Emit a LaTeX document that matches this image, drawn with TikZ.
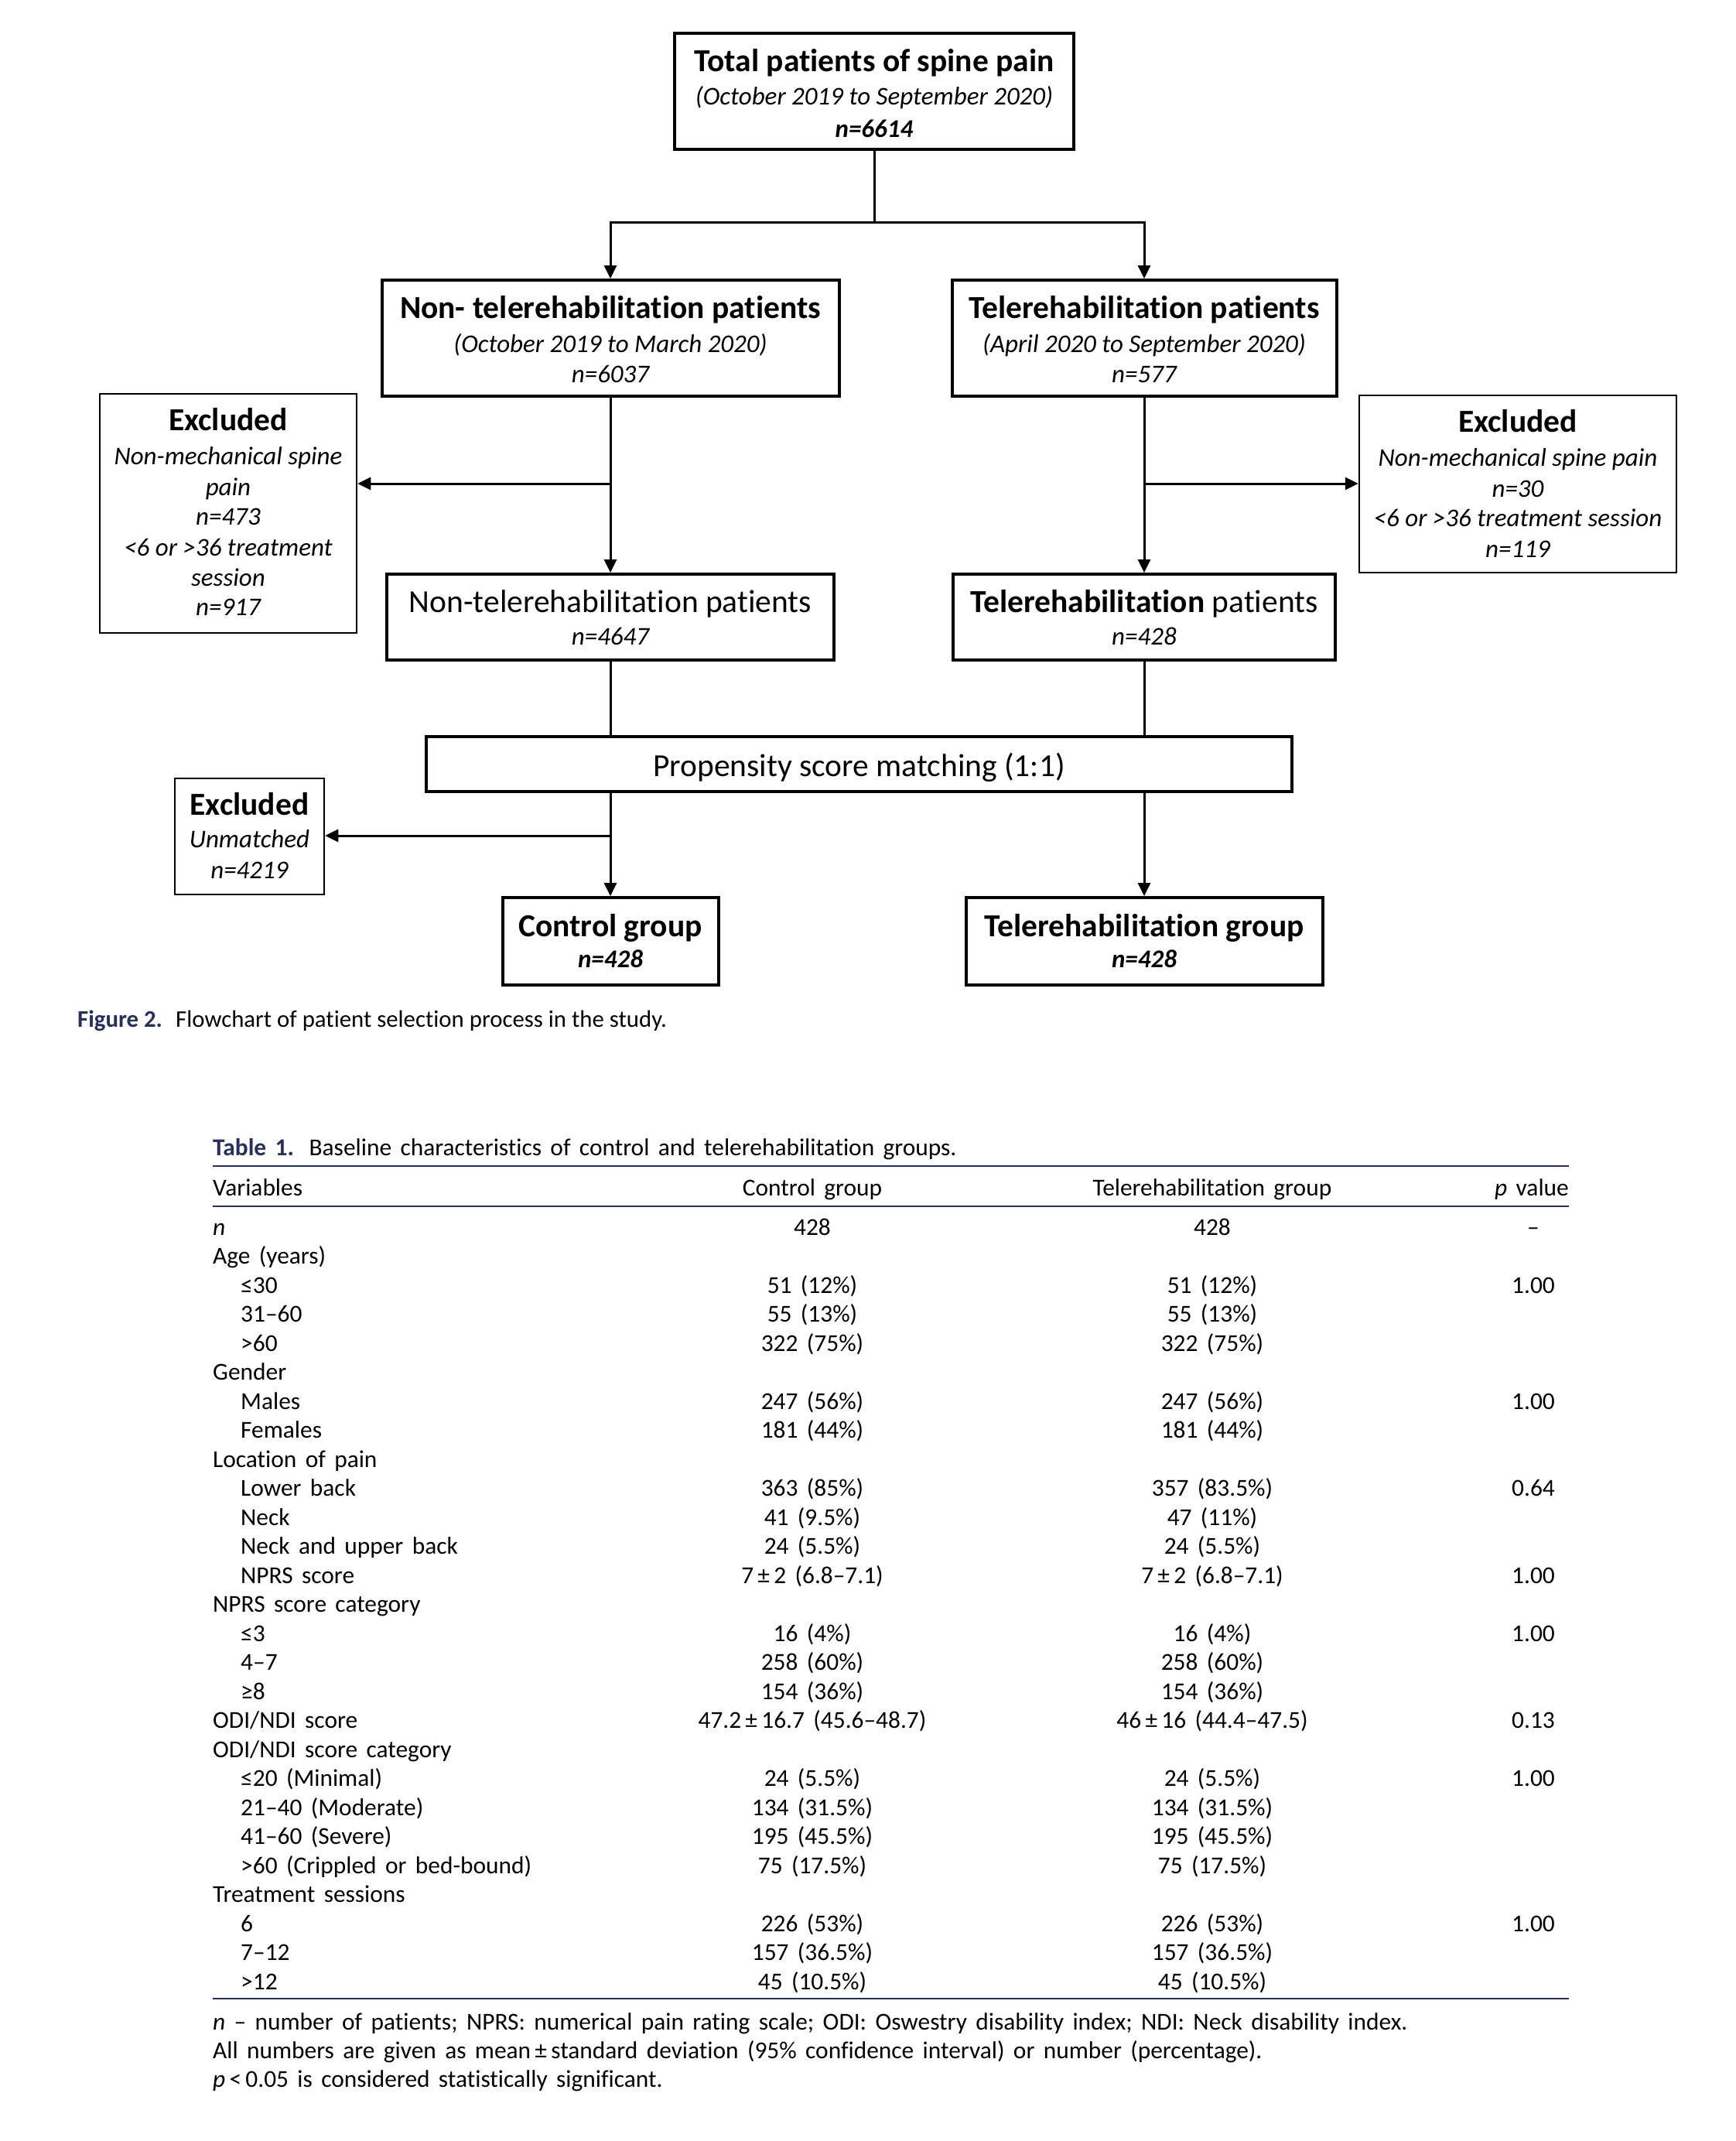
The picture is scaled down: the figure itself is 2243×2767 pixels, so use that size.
\documentclass[tikz,border=0pt]{standalone}
\usepackage{fontspec}
\setmainfont{Carlito}[Ligatures=NoCommon]
\newfontfamily\tabfont{Carlito}[WordSpace=1.6,Ligatures=NoCommon]
\usetikzlibrary{arrows.meta}
\definecolor{navy}{RGB}{38,48,92}
\newcommand\fbig{\fontsize{41.5}{48}\selectfont}
\newcommand\fsm{\fontsize{33}{40}\selectfont}
\newcommand\ftab{\tabfont\fontsize{31.4}{37}\selectfont}
\newcommand\fcap{\fontsize{30.8}{37}\selectfont}
\newcommand\trow[5]{%
  \node[tl] (tv#1) at (#2,{1596+37.5*#1}) {#3};
  \node[tc] (tc#1) at (1050,{1596+37.5*#1}) {#4};
  \node[tc] (tt#1) at (1567,{1596+37.5*#1}) {#5};}
\newcommand\crow[2]{\node[tl] (tv#1) at (275,{1596+37.5*#1}) {#2};}
\newcommand\prow[2]{\node[tc] (tp#1) at (1982,{1596+37.5*#1}) {#2};}
\begin{document}
\begin{tikzpicture}[x=1pt,y=-1pt,
  mainbox/.style={draw, line width=4pt, inner sep=0pt, rectangle},
  exbox/.style={draw, line width=2.5pt, inner sep=0pt, rectangle},
  conn/.style={line width=3pt, line join=miter},
  arr/.style={conn, -{Triangle[length=17pt,width=16pt]}},
  txt/.style={inner sep=0pt, anchor=base},
  tl/.style={inner sep=0pt, anchor=base west, font=\ftab},
  tc/.style={inner sep=0pt, anchor=base, font=\ftab}]
\useasboundingbox (0,0) rectangle (2243,2767);
\fill[white] (0,0) rectangle (2243,2767);
% ---------- boxes
\node[mainbox, minimum width=516pt, minimum height=150pt] (top) at (1130,118) {};
\node[mainbox, minimum width=591pt, minimum height=150pt] (nt1) at (789,437) {};
\node[mainbox, minimum width=497pt, minimum height=150pt] (te1) at (1479,437) {};
\node[exbox, minimum width=332pt, minimum height=309pt] (exL) at (295,663.5) {};
\node[exbox, minimum width=410pt, minimum height=229pt] (exR) at (1962,625.5) {};
\node[mainbox, minimum width=578pt, minimum height=111pt] (nt2) at (789,797.5) {};
\node[mainbox, minimum width=494pt, minimum height=111pt] (te2) at (1479,797.5) {};
\node[mainbox, minimum width=1119pt, minimum height=71pt] (psm) at (1110.5,987.5) {};
\node[exbox, minimum width=193pt, minimum height=150pt] (exU) at (322.5,1081) {};
\node[mainbox, minimum width=279pt, minimum height=113pt] (ctrl) at (789,1216.5) {};
\node[mainbox, minimum width=461pt, minimum height=113pt] (tgrp) at (1479,1216.5) {};
% ---------- texts
\node[txt,font=\fbig\bfseries] (top1) at (1130,93) {Total patients of spine pain};
\node[txt,font=\fsm\itshape] (top2) at (1130,135.5) {(October 2019 to September 2020)};
\node[txt,font=\fsm\bfseries\itshape] (top3) at (1130,177.5) {n=6614};
\node[txt,font=\fbig\bfseries] (nt1a) at (789,411) {Non- telerehabilitation patients};
\node[txt,font=\fsm\itshape] (nt1b) at (789,455.5) {(October 2019 to March 2020)};
\node[txt,font=\fsm\itshape] (nt1c) at (789,494.5) {n=6037};
\node[txt,font=\fbig\bfseries] (te1a) at (1479,411) {Telerehabilitation patients};
\node[txt,font=\fsm\itshape] (te1b) at (1479,455.5) {(April 2020 to September 2020)};
\node[txt,font=\fsm\itshape] (te1c) at (1479,494.5) {n=577};
\node[txt,font=\fbig\bfseries] (exLa) at (295,556) {Excluded};
\node[txt,font=\fsm\itshape] (exLb) at (295,600.5) {Non-mechanical spine};
\node[txt,font=\fsm\itshape] (exLc) at (295,640.5) {pain};
\node[txt,font=\fsm\itshape] (exLd) at (295,678.5) {n=473};
\node[txt,font=\fsm\itshape] (exLe) at (295,718.5) {<6 or >36 treatment};
\node[txt,font=\fsm\itshape] (exLf) at (295,757.5) {session};
\node[txt,font=\fsm\itshape] (exLg) at (295,795.5) {n=917};
\node[txt,font=\fbig\bfseries] (exRa) at (1962,558) {Excluded};
\node[txt,font=\fsm\itshape] (exRb) at (1962,602.5) {Non-mechanical spine pain};
\node[txt,font=\fsm\itshape] (exRc) at (1962,642.5) {n=30};
\node[txt,font=\fsm\itshape] (exRd) at (1962,680.5) {<6 or >36 treatment session};
\node[txt,font=\fsm\itshape] (exRe) at (1962,720.5) {n=119};
\node[txt,font=\fbig] (nt2a) at (789,791) {Non-telerehabilitation patients};
\node[txt,font=\fsm\itshape] (nt2b) at (789,833.5) {n=4647};
\node[txt,font=\fbig] (te2a) at (1479,791) {\textbf{Telerehabilitation} patients};
\node[txt,font=\fsm\itshape] (te2b) at (1479,833.5) {n=428};
\node[txt,font=\fbig] (psma) at (1110.5,1003) {Propensity score matching (1:1)};
\node[txt,font=\fbig\bfseries] (exUa) at (322.5,1053) {Excluded};
\node[txt,font=\fsm\itshape] (exUb) at (322.5,1095.5) {Unmatched};
\node[txt,font=\fsm\itshape] (exUc) at (322.5,1135.5) {n=4219};
\node[txt,font=\fbig\bfseries] (ctrla) at (789,1210) {Control group};
\node[txt,font=\fsm\bfseries\itshape] (ctrlb) at (789,1250.5) {n=428};
\node[txt,font=\fbig\bfseries] (tgrpa) at (1479,1210) {Telerehabilitation group};
\node[txt,font=\fsm\bfseries\itshape] (tgrpb) at (1479,1250.5) {n=428};
% ---------- connectors
\coordinate (br) at (1130,287);
\draw[conn] (top.south) -- (br);
\draw[arr] (br) -| (nt1.north);
\draw[arr] (br) -| (te1.north);
\draw[arr] (nt1.south) -- (nt2.north);
\draw[arr] (te1.south) -- (te2.north);
\coordinate (jl) at (789,625);
\coordinate (jr) at (1479,625);
\draw[arr] (jl) -- (jl -| exL.east);
\draw[arr] (jr) -- (jr -| exR.west);
\draw[conn] (nt2.south) -- (nt2.south |- psm.north);
\draw[conn] (te2.south) -- (te2.south |- psm.north);
\draw[arr] (psm.south -| ctrl.north) -- (ctrl.north);
\draw[arr] (psm.south -| tgrp.north) -- (tgrp.north);
\coordinate (ju) at (789,1080);
\draw[arr] (ju) -- (ju -| exU.east);
% ---------- caption
\node[inner sep=0pt, anchor=base west, font=\fcap] (cap) at (100,1327)
  {\textcolor{navy}{\bfseries Figure 2.}\hspace{8pt} Flowchart of patient selection process in the study.};
% ---------- table
\node[tl] (ttl) at (275,1493) {\textcolor{navy}{\bfseries Table 1.}\hspace{6pt} Baseline characteristics of control and telerehabilitation groups.};
\draw[navy, line width=2.7pt] (275,1507) -- (2028,1507);
\node[tl] (hv) at (275,1545) {Variables};
\node[tc] (hc) at (1050,1545) {Control group};
\node[tc] (ht) at (1567,1545) {Telerehabilitation group};
\node[tl, anchor=base east] (hp) at (2028,1545) {\textit{p} value};
\draw[navy, line width=2.7pt] (275,1559) -- (2028,1559);
\trow{0}{275}{\textit{n}}{428}{428}\prow{0}{–}
\crow{1}{Age (years)}
\trow{2}{311}{≤30}{51 (12\%)}{51 (12\%)}\prow{2}{1.00}
\trow{3}{311}{31–60}{55 (13\%)}{55 (13\%)}
\trow{4}{311}{>60}{322 (75\%)}{322 (75\%)}
\crow{5}{Gender}
\trow{6}{311}{Males}{247 (56\%)}{247 (56\%)}\prow{6}{1.00}
\trow{7}{311}{Females}{181 (44\%)}{181 (44\%)}
\crow{8}{Location of pain}
\trow{9}{311}{Lower back}{363 (85\%)}{357 (83.5\%)}\prow{9}{0.64}
\trow{10}{311}{Neck}{41 (9.5\%)}{47 (11\%)}
\trow{11}{311}{Neck and upper back}{24 (5.5\%)}{24 (5.5\%)}
\trow{12}{311}{NPRS score}{7\,±\,2 (6.8–7.1)}{7\,±\,2 (6.8–7.1)}\prow{12}{1.00}
\crow{13}{NPRS score category}
\trow{14}{311}{≤3}{16 (4\%)}{16 (4\%)}\prow{14}{1.00}
\trow{15}{311}{4–7}{258 (60\%)}{258 (60\%)}
\trow{16}{311}{≥8}{154 (36\%)}{154 (36\%)}
\trow{17}{275}{ODI/NDI score}{47.2\,±\,16.7 (45.6–48.7)}{46\,±\,16 (44.4–47.5)}\prow{17}{0.13}
\crow{18}{ODI/NDI score category}
\trow{19}{311}{≤20 (Minimal)}{24 (5.5\%)}{24 (5.5\%)}\prow{19}{1.00}
\trow{20}{311}{21–40 (Moderate)}{134 (31.5\%)}{134 (31.5\%)}
\trow{21}{311}{41–60 (Severe)}{195 (45.5\%)}{195 (45.5\%)}
\trow{22}{311}{>60 (Crippled or bed-bound)}{75 (17.5\%)}{75 (17.5\%)}
\crow{23}{Treatment sessions}
\trow{24}{311}{6}{226 (53\%)}{226 (53\%)}\prow{24}{1.00}
\trow{25}{311}{7–12}{157 (36.5\%)}{157 (36.5\%)}
\trow{26}{311}{>12}{45 (10.5\%)}{45 (10.5\%)}
\draw[navy, line width=2.7pt] (275,2583) -- (2028,2583);
\node[tl] (fn1) at (275,2623) {\textit{n} – number of patients; NPRS: numerical pain rating scale; ODI: Oswestry disability index; NDI: Neck disability index.};
\node[tl] (fn2) at (275,2660) {All numbers are given as mean\,±\,standard deviation (95\% confidence interval) or number (percentage).};
\node[tl] (fn3) at (275,2697) {\textit{p}\,<\,0.05 is considered statistically significant.};
\end{tikzpicture}
\end{document}
